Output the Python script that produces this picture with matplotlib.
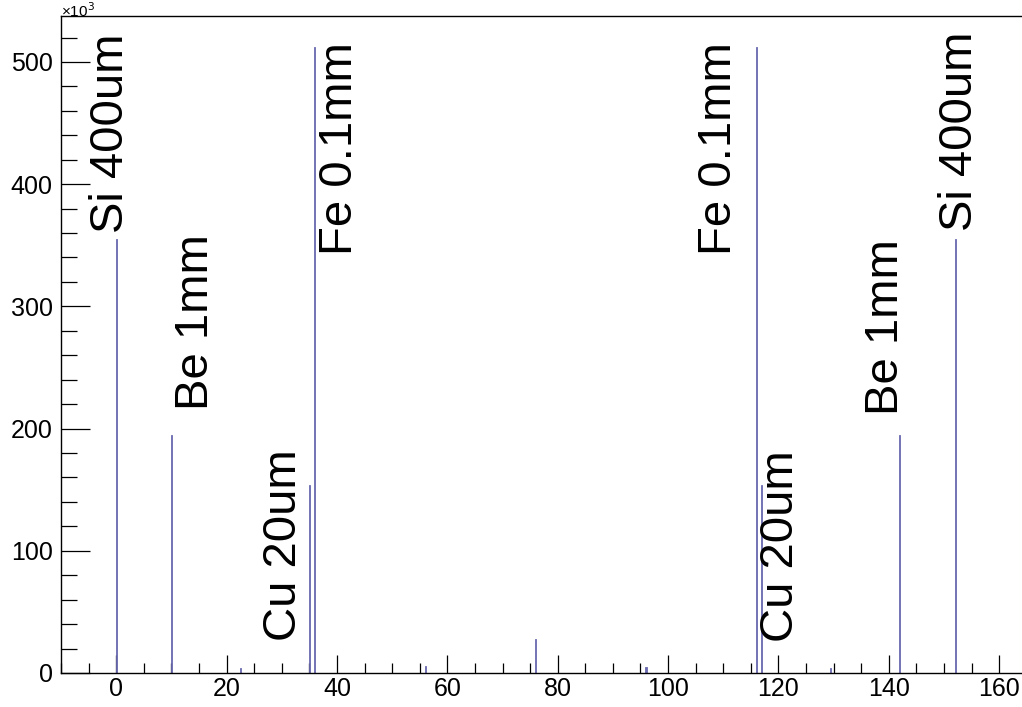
import matplotlib
matplotlib.use("Agg")
import matplotlib.pyplot as plt
from matplotlib.ticker import MultipleLocator

plt.rcParams['font.family'] = ['Liberation Sans', 'DejaVu Sans']

# ---- data ----
bin_x = [0, 10, 22.5, 35, 36, 56, 76, 96, 116, 117, 129.5, 142, 152]
bin_h = [355, 195, 4, 154, 512, 5.5, 28, 5, 512, 154, 4.3, 195, 355]

label_text = ["Si 400um", "Be 1mm", "Cu 20um", "Fe 0.1mm",
              "Fe 0.1mm", "Cu 20um", "Be 1mm", "Si 400um"]
label_x = [-0.9, 14.4, 30.4, 40.5, 109.3, 120.4, 139.4, 152.9]
label_y = [360, 215, 26, 342, 342, 25, 211, 362]

xlim = (-10, 170)
ylim = (0, 537.6)

W, H = 1022, 707
fig = plt.figure(figsize=(W / 100, H / 100), dpi=100)
left_px, top_px, bottom_px = 61, 16, 673
xscale = 5.519
ax = fig.add_axes([left_px / W, 1 - bottom_px / H,
                   (xlim[1] - xlim[0]) * xscale / W, (bottom_px - top_px) / H])

ax.bar(bin_x, bin_h, width=0.2, color='#6a6ab0', edgecolor='#6a6ab0',
       linewidth=0.6, zorder=2)

for t, x, y in zip(label_text, label_x, label_y):
    ax.text(x, y, t, rotation=90, ha='center', va='bottom',
            fontsize=34, color='black', zorder=3)

ax.set_xlim(*xlim)
ax.set_ylim(*ylim)

ax.xaxis.set_major_locator(MultipleLocator(20))
ax.xaxis.set_minor_locator(MultipleLocator(5))
ax.yaxis.set_major_locator(MultipleLocator(100))
ax.yaxis.set_minor_locator(MultipleLocator(20))

ax.tick_params(axis='x', which='major', direction='in', length=13, width=0.9,
               labelsize=18, pad=3, top=False)
ax.tick_params(axis='x', which='minor', direction='in', length=7, width=0.9, top=False)
ax.tick_params(axis='y', which='major', direction='in', length=21, width=0.9,
               labelsize=18, pad=6, right=False)
ax.tick_params(axis='y', which='minor', direction='in', length=11.5, width=0.9, right=False)

for s in ax.spines.values():
    s.set_linewidth(1.0)
    s.set_color('black')

fig.text(61 / W, 1 - 1 / H, "×10$^{3}$", fontsize=11, ha='left', va='top')

fig.savefig("out.png", dpi=100)
